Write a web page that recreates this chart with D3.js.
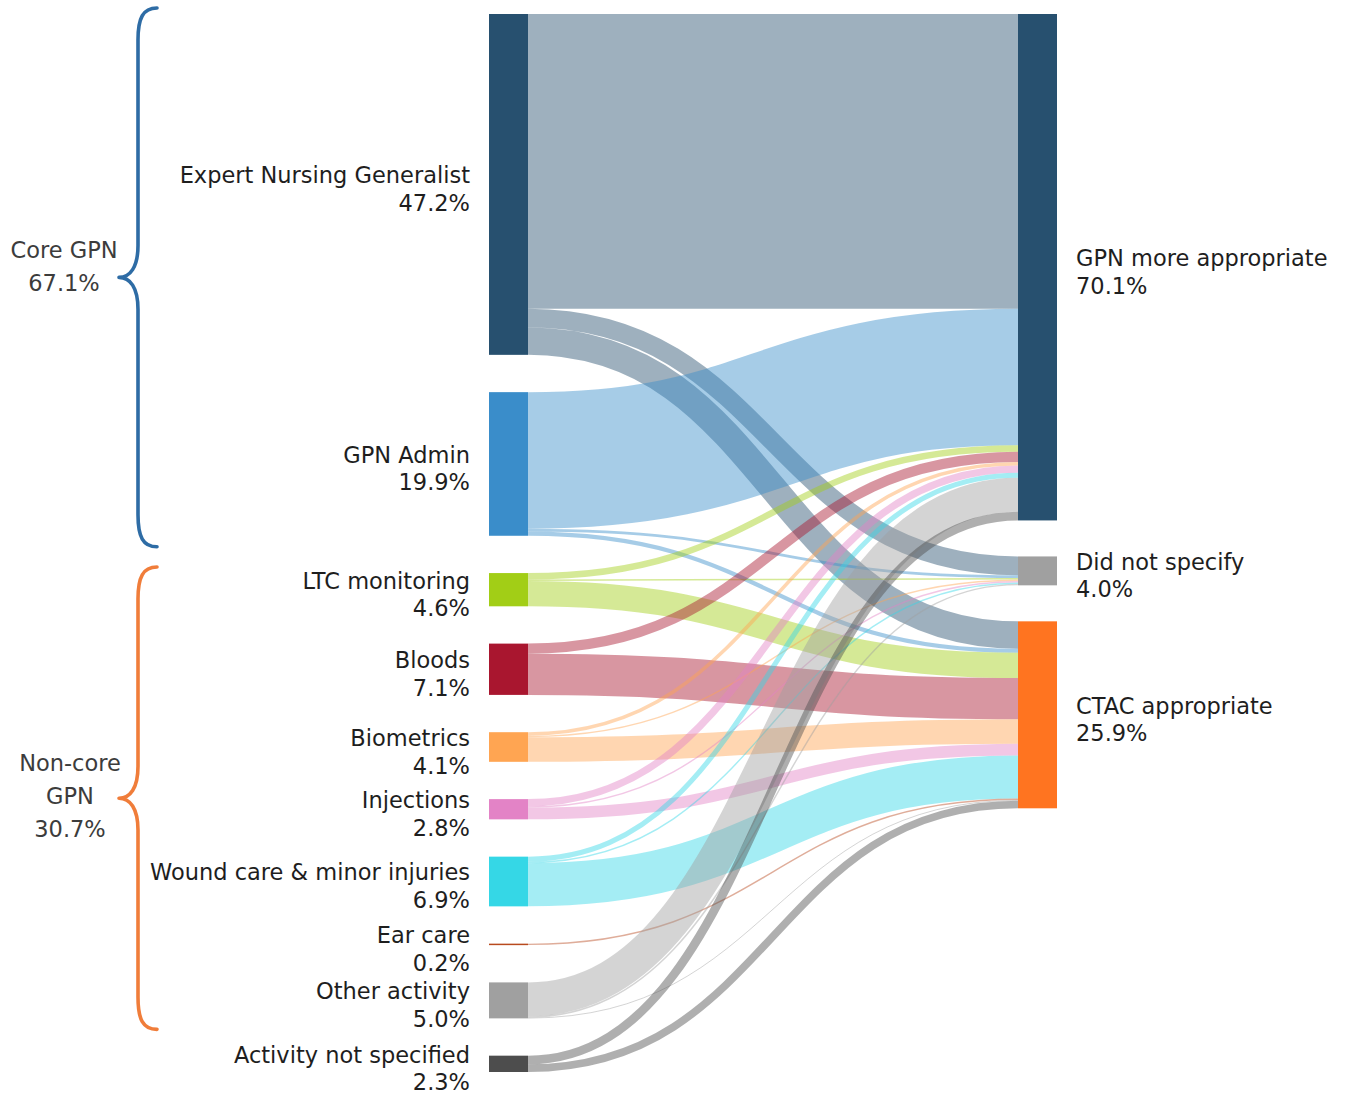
<!DOCTYPE html>
<html>
<head>
<meta charset="utf-8">
<script src="https://cdn.jsdelivr.net/npm/d3@7"></script>
<style>
  html, body { margin: 0; padding: 0; background: #ffffff; }
  svg { display: block; font-family: "DejaVu Sans", Verdana, sans-serif; }
</style>
</head>
<body>
<svg id="chart" width="1347" height="1095"></svg>
<script>
// Activity types (left column) and appropriateness judgements (right column)
const activities = [
  "Expert Nursing Generalist", "GPN Admin", "LTC monitoring", "Bloods",
  "Biometrics", "Injections", "Wound care & minor injuries", "Ear care",
  "Other activity", "Activity not specified"
];
const activityColors = [
  "#27506f", "#3a8dca", "#a2ce16", "#a9162f", "#ffa552",
  "#e383c6", "#35d7e6", "#b84a1e", "#a0a0a0", "#4d4d4d"
];
const outcomes = ["GPN more appropriate", "Did not specify", "CTAC appropriate"];
const outcomeColors = ["#27506f", "#a0a0a0", "#ff7420"];

// Share of all activity (%) flowing from each activity to each outcome
const toGpnMoreAppropriate = [40.8, 18.9, 0.9, 1.4, 0.5, 1.0, 0.7, 0.0, 4.7, 1.2];
const toDidNotSpecify      = [2.6, 0.4, 0.2, 0.0, 0.2, 0.2, 0.2, 0.0, 0.2, 0.0];
const toCtacAppropriate    = [3.78, 0.58, 3.5, 5.7, 3.4, 1.6, 5.98, 0.2, 0.08, 1.06];

// Bracketed groupings of activities
const groupNames = [["Core GPN"], ["Non-core", "GPN"]];
const groupMembers = [[0, 1], [2, 3, 4, 5, 6, 7, 8]];
const groupColors = ["#2e6ca5", "#f07d3a"];

// ---------------------------------------------------------------------------
const svg = d3.select("#chart");
const fmt = d3.format(".1f");

const flows = [toGpnMoreAppropriate, toDidNotSpecify, toCtacAppropriate];
const nodeWidth = 39;
const leftX = 489, rightX = 1018;
const plotTop = 14, plotBottom = 1072;
const padLeft = 37.3, padRight = 36;

const leftNodes = activities.map((name, i) => ({
  name, color: activityColors[i], x0: leftX, x1: leftX + nodeWidth,
  value: d3.sum(flows, f => f[i])
}));
const rightNodes = outcomes.map((name, j) => ({
  name, color: outcomeColors[j], x0: rightX, x1: rightX + nodeWidth,
  value: d3.sum(flows[j])
}));

// pixels per percentage point, fitted to the taller (left) column
const kPerUnit = (plotBottom - plotTop - (leftNodes.length - 1) * padLeft) / d3.sum(leftNodes, d => d.value);
const size = d3.scaleLinear().domain([0, 1]).range([0, kPerUnit]);

function stack(nodes, pad) {
  let y = plotTop;
  nodes.forEach(n => { n.y0 = y; n.y1 = y + size(n.value); y = n.y1 + pad; });
}
stack(leftNodes, padLeft);
stack(rightNodes, padRight);

// links: ordered by target at the source end, by source at the target end
const links = [];
leftNodes.forEach((s, i) => {
  let sy = s.y0;
  rightNodes.forEach((t, j) => {
    const v = flows[j][i];
    if (v > 0) {
      const w = size(v);
      links.push({ source: s, target: t, value: v, width: w, si: i, tj: j, y0: sy + w / 2 });
      sy += w;
    }
  });
});
rightNodes.forEach((t, j) => {
  let ty = t.y0;
  links.filter(l => l.tj === j).sort((a, b) => a.si - b.si).forEach(l => {
    l.y1 = ty + l.width / 2;
    ty += l.width;
  });
});

const linkPath = d3.linkHorizontal()
  .source(d => [d.source.x1, d.y0])
  .target(d => [d.target.x0, d.y1]);

svg.append("g")
  .attr("fill", "none")
  .selectAll("path")
  .data(links)
  .join("path")
  .attr("d", linkPath)
  .attr("stroke", d => d.source.color)
  .attr("stroke-opacity", 0.45)
  .attr("stroke-width", d => Math.max(1, d.width));

const allNodes = leftNodes.concat(rightNodes);
svg.append("g")
  .selectAll("rect")
  .data(allNodes)
  .join("rect")
  .attr("x", d => d.x0)
  .attr("y", d => d.y0)
  .attr("width", d => d.x1 - d.x0)
  .attr("height", d => Math.max(1.5, d.y1 - d.y0))
  .attr("fill", d => d.color);

// node labels: name and share
function nodeLabels(nodes, x, anchor) {
  const g = svg.append("g")
    .attr("font-size", 22.5)
    .attr("fill", "#1e1e1e")
    .attr("text-anchor", anchor);
  const t = g.selectAll("text").data(nodes).join("text")
    .attr("transform", d => `translate(${x},${(d.y0 + d.y1) / 2})`);
  t.append("tspan").attr("x", 0).attr("y", -1).text(d => d.name);
  t.append("tspan").attr("x", 0).attr("y", 26.5).text(d => fmt(d.value) + "%");
}
nodeLabels(leftNodes, leftX - 19, "end");
nodeLabels(rightNodes, rightX + nodeWidth + 19, "start");

// curly brackets around activity groups
function bracePath(x, y0, y1) {
  const ym = (y0 + y1) / 2;
  return `M${x + 19},${y0} C${x + 5},${y0} ${x},${y0 + 10} ${x},${y0 + 32}` +
         ` L${x},${ym - 32} C${x},${ym - 10} ${x - 8},${ym} ${x - 19},${ym}` +
         ` C${x - 8},${ym} ${x},${ym + 10} ${x},${ym + 32}` +
         ` L${x},${y1 - 32} C${x},${y1 - 10} ${x + 5},${y1} ${x + 19},${y1}`;
}
const labelPlacement = [{ cx: 64, first: -19 }, { cx: 70, first: -27 }];

groupMembers.forEach((members, gi) => {
  const nodes = members.map(i => leftNodes[i]);
  const y0 = d3.min(nodes, d => d.y0) - 6;
  const y1 = d3.max(nodes, d => d.y1) + 11;
  const ym = (y0 + y1) / 2;
  svg.append("path")
    .attr("d", bracePath(138, y0, y1))
    .attr("fill", "none")
    .attr("stroke", groupColors[gi])
    .attr("stroke-width", 3.6)
    .attr("stroke-linecap", "round")
    .attr("stroke-linejoin", "round");
  const lines = groupNames[gi].concat([fmt(d3.sum(nodes, d => d.value)) + "%"]);
  const p = labelPlacement[gi];
  svg.append("g")
    .attr("font-size", 22.5)
    .attr("fill", "#3c3c3c")
    .attr("text-anchor", "middle")
    .selectAll("text").data(lines).join("text")
    .attr("x", p.cx)
    .attr("y", (d, k) => ym + p.first + k * 33)
    .text(d => d);
});
</script>
</body>
</html>
